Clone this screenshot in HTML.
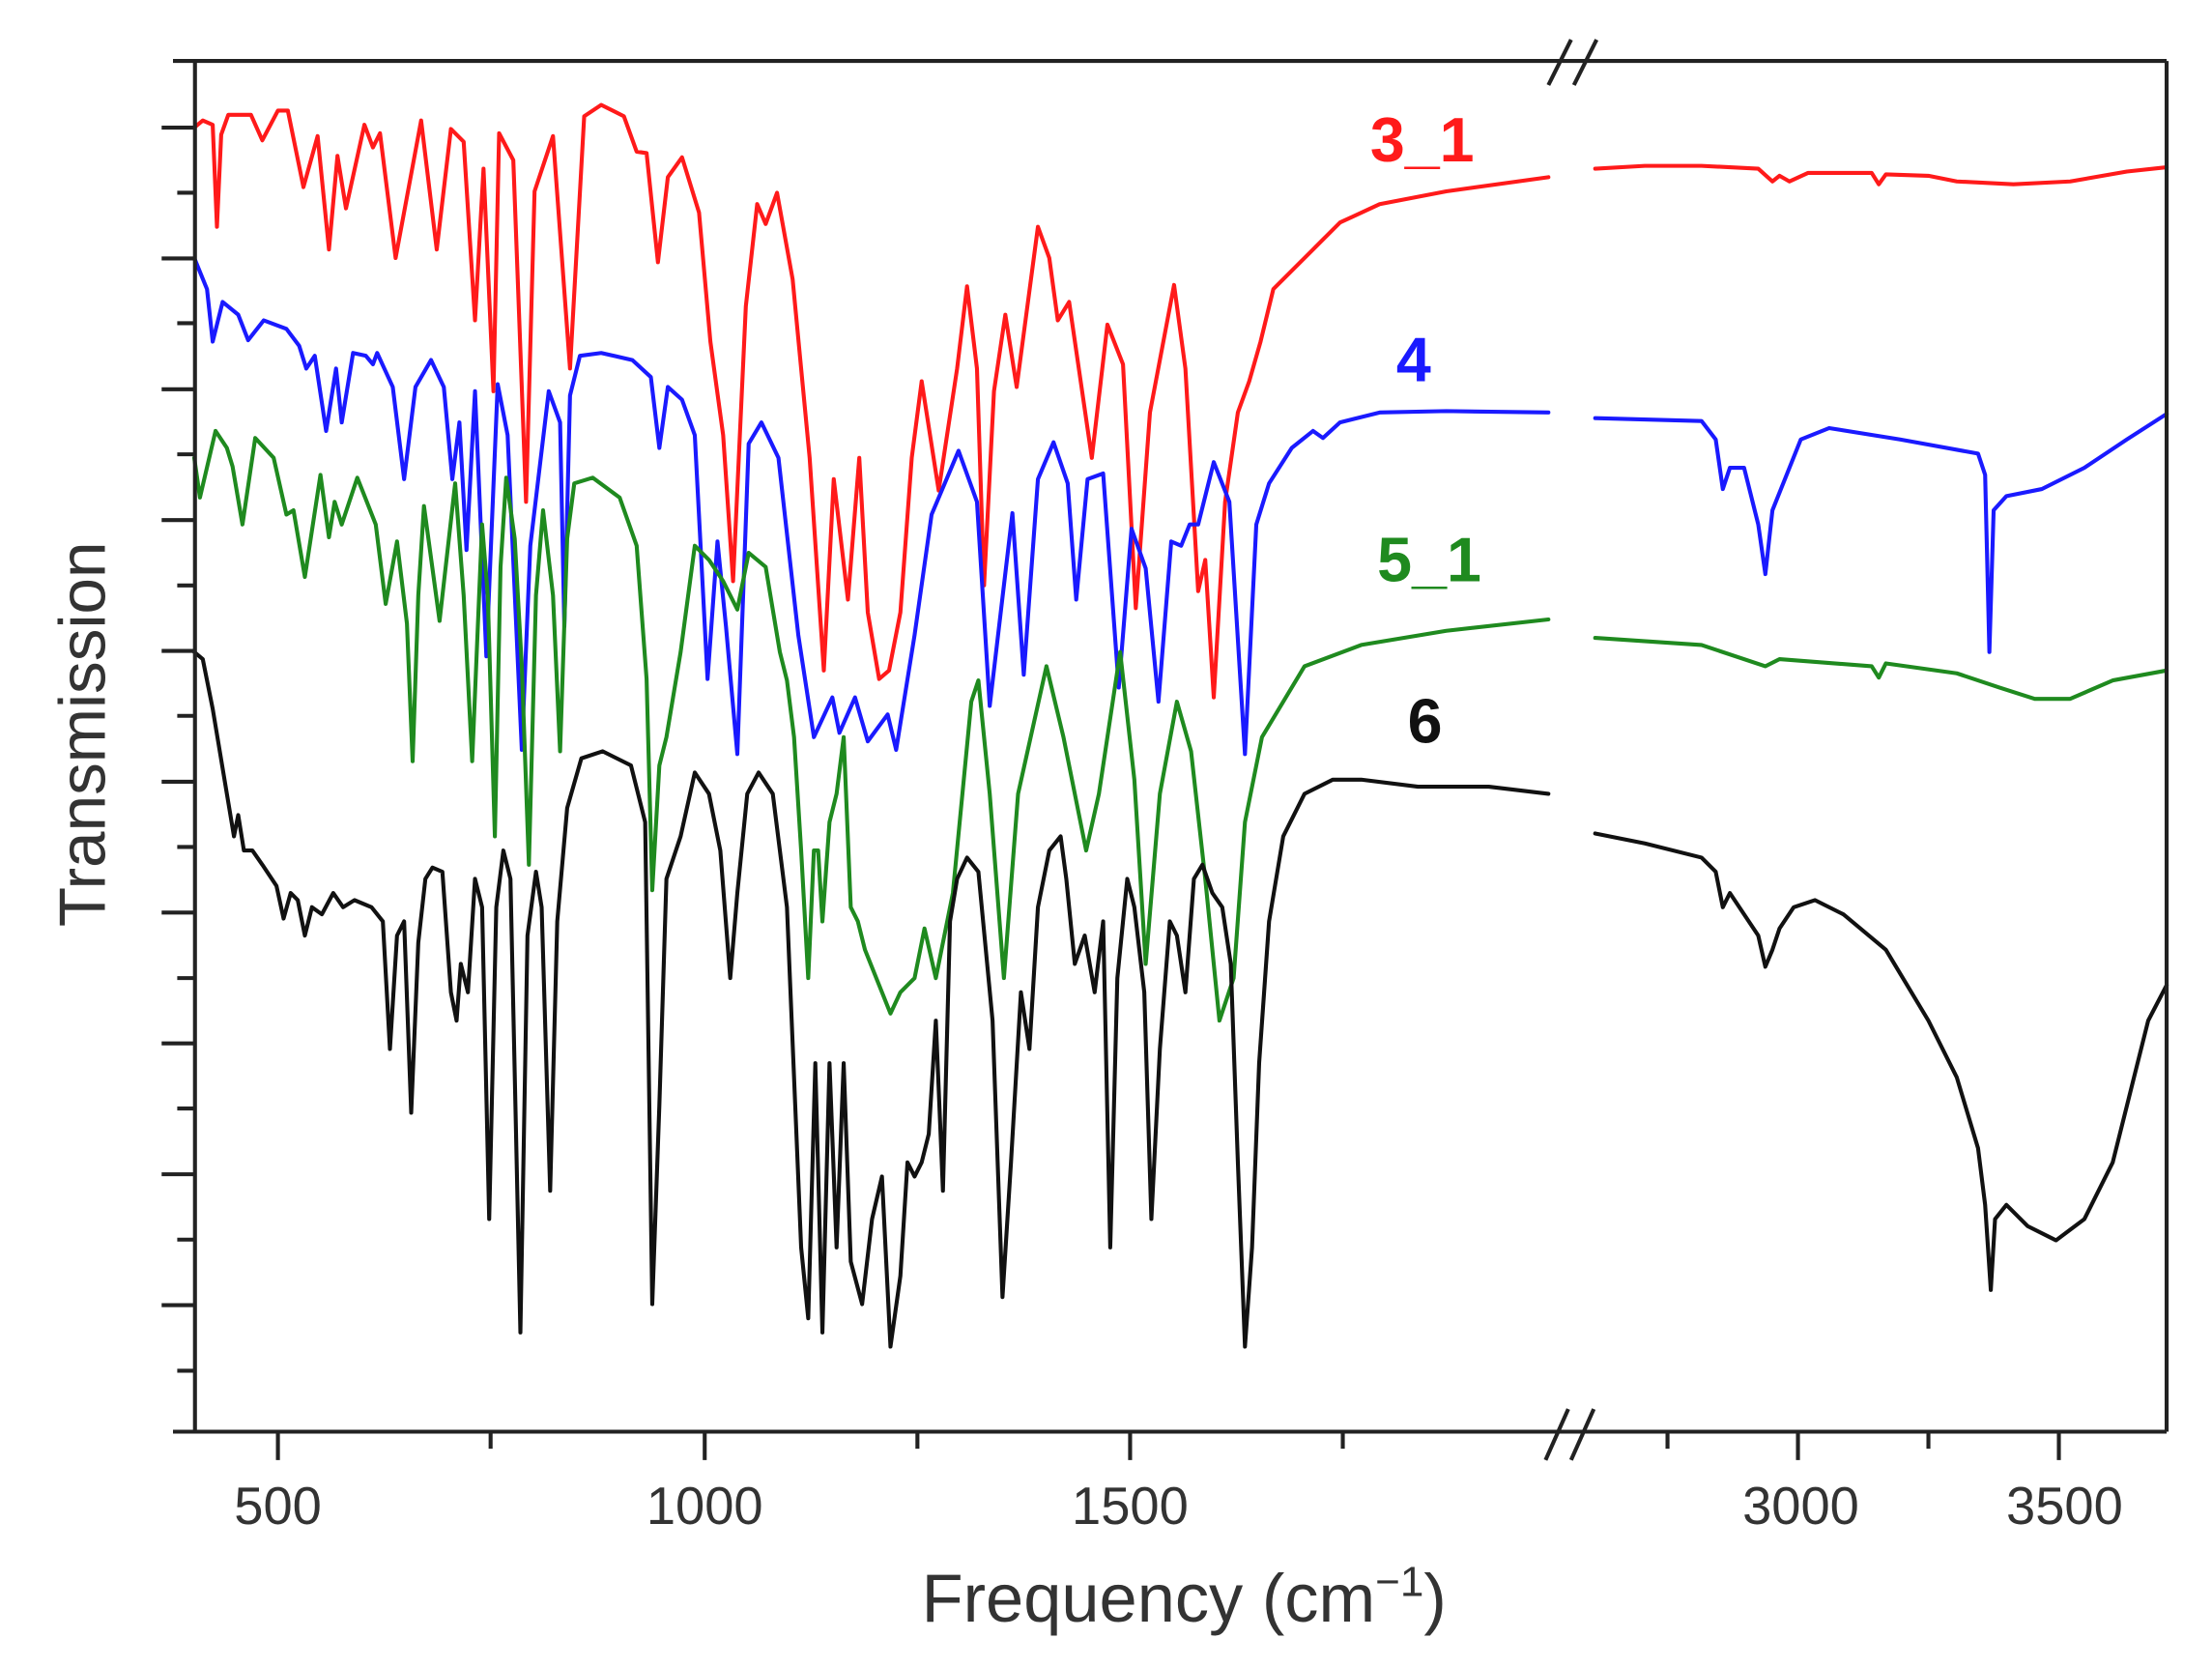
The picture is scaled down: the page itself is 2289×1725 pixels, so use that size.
<!DOCTYPE html>
<html><head><meta charset="utf-8"><style>
html,body{margin:0;padding:0;background:#fff;}
svg{display:block;}
text{font-family:"Liberation Sans",sans-serif;}
</style></head><body>
<svg width="2289" height="1725" viewBox="0 0 1560 1176" preserveAspectRatio="none" xmlns="http://www.w3.org/2000/svg">
<rect width="1560" height="1176" fill="#fff"/>
<g fill="none" stroke-width="2.8" stroke-linejoin="round" stroke-linecap="round">
<polyline stroke="#ff1a1a" points="137,90 143,85 150,88 153,160 156,95 161,81 177,81 185,99 196,78 203,78 214,132 224,96 232,176 238,110 244,147 257,88 263,104 268,94 279,182 297,85 308,176 318,91 327,100 335,226 341,119 348,276 352,94 362,113 371,354 377,135 390,96 402,260 412,82 424,74 440,82 449,107 456,108 464,185 471,125 481,111 493,150 501,241 510,307 517,410 526,216 534,144 540,158 548,136 559,197 571,323 581,473 588,338 598,423 606,323 612,432 620,479 627,473 635,432 643,323 650,269 662,346 675,260 682,202 689,260 694,413 701,276 709,222 717,273 732,160 740,182 746,226 754,213 770,323 781,229 792,257 801,429 811,291 828,201 836,260 845,417 850,395 856,492 864,354 873,291 881,269 889,241 898,204 926,176 945,157 973,144 1020,135 1092,125"/>
<polyline stroke="#ff1a1a" points="1125,119 1160,117 1200,117 1240,119 1250,128 1255,124 1262,128 1275,122 1320,122 1325,130 1330,123 1360,124 1380,128 1420,130 1460,128 1500,121 1528,118"/>
<polyline stroke="#1a1aff" points="137,182 146,204 150,241 157,213 168,222 175,240 186,226 202,232 211,244 216,260 222,251 230,304 237,260 241,298 249,249 258,251 263,257 266,249 277,273 285,338 293,273 304,254 313,273 319,338 324,298 329,388 335,276 343,463 351,271 358,307 368,529 374,385 387,276 395,298 398,442 402,279 409,251 424,249 446,254 459,266 465,316 471,273 481,282 490,307 499,479 506,382 512,442 520,532 528,313 537,298 549,323 563,448 574,520 587,492 592,517 603,492 612,523 626,504 632,529 645,448 657,363 676,318 689,354 698,498 714,362 722,476 732,338 743,312 753,341 759,423 767,338 778,334 789,485 798,373 808,401 817,495 826,382 833,385 839,370 845,370 856,326 867,354 878,532 886,370 895,341 911,316 926,304 933,309 945,298 973,291 1020,290 1092,291"/>
<polyline stroke="#1a1aff" points="1125,295 1200,297 1210,310 1215,345 1220,330 1230,330 1240,370 1245,405 1250,360 1258,340 1270,310 1290,302 1340,310 1395,320 1400,335 1403,460 1406,360 1415,350 1440,345 1470,330 1500,310 1528,292"/>
<polyline stroke="#1f8a1f" points="137,323 141,351 152,304 160,316 164,329 171,370 180,309 193,323 202,363 207,360 215,407 226,335 232,379 236,354 241,370 252,337 265,370 272,426 280,382 287,440 291,537 295,420 299,357 310,438 321,341 327,420 333,537 340,370 344,420 349,590 353,400 357,337 363,380 368,470 373,610 378,420 383,360 390,420 395,530 400,380 405,341 418,337 437,351 449,385 456,479 460,628 465,540 470,520 480,460 490,385 500,395 510,410 520,430 528,390 540,400 550,460 555,480 560,520 565,600 570,690 574,600 577,600 580,650 585,580 590,560 595,520 600,640 605,650 610,670 622,700 628,715 635,700 645,690 652,655 660,690 672,630 685,495 690,480 698,560 708,690 718,560 738,470 750,520 766,600 775,560 790,460 800,550 808,680 818,560 830,495 840,530 850,620 860,720 870,690 878,580 890,520 920,470 960,455 1020,445 1092,437"/>
<polyline stroke="#1f8a1f" points="1125,450 1200,455 1245,470 1255,465 1320,470 1325,478 1330,468 1380,475 1410,485 1435,493 1460,493 1490,480 1528,473"/>
<polyline stroke="#111" points="137,460 143,465 150,500 160,560 165,590 168,575 172,600 178,600 185,610 195,625 200,648 205,630 210,635 215,660 220,640 227,645 235,630 242,640 250,635 262,640 270,650 275,740 280,660 285,650 290,785 295,665 300,620 305,612 312,615 318,700 322,720 325,680 330,700 335,620 340,640 345,860 350,640 355,600 360,620 367,940 372,660 378,615 382,640 388,840 393,650 400,570 410,535 425,530 445,540 455,580 460,920 465,780 470,620 480,590 490,545 500,560 508,600 515,690 520,630 527,560 535,545 545,560 555,640 565,880 570,930 575,750 580,940 585,750 590,880 595,750 600,890 608,920 615,860 622,830 628,950 635,900 640,820 645,830 650,820 655,800 660,720 665,840 670,650 675,620 682,605 690,615 700,720 707,915 713,820 720,700 726,740 732,640 740,600 748,590 752,620 758,680 765,660 772,700 778,650 783,880 788,690 795,620 800,640 807,700 812,860 818,740 825,650 830,660 836,700 842,620 848,610 855,630 862,640 868,680 873,820 878,950 883,880 888,750 895,650 905,590 920,560 940,550 960,550 1000,555 1050,555 1092,560"/>
<polyline stroke="#111" points="1125,588 1160,595 1200,605 1210,615 1215,640 1220,630 1230,645 1240,660 1245,682 1250,670 1255,655 1265,640 1280,635 1300,645 1330,670 1360,720 1380,760 1395,810 1400,850 1404,910 1407,860 1415,850 1430,865 1450,875 1470,860 1490,820 1505,760 1515,720 1528,695"/>
</g>
<g stroke="#222" stroke-width="2.8" fill="none">
<line x1="137.5" y1="43" x2="137.5" y2="1010"/>
<line x1="1528" y1="43" x2="1528" y2="1010"/>
<line x1="122" y1="43" x2="1528" y2="43"/>
<line x1="122" y1="1010" x2="1528" y2="1010"/>
<line x1="1092" y1="60" x2="1108" y2="28" />
<line x1="1110" y1="60" x2="1126" y2="28" />
<line x1="1090" y1="1030" x2="1106" y2="994" />
<line x1="1108" y1="1030" x2="1124" y2="994" />
<path d="M114 90H137M114 182.3H137M114 274.6H137M114 366.9H137M114 459.2H137M114 551.5H137M114 643.8H137M114 736.1H137M114 828.4H137M114 920.7H137"/>
<path d="M125 136H137M125 228H137M125 320.5H137M125 413H137M125 505H137M125 597.5H137M125 690H137M125 782H137M125 874.5H137M125 967H137"/>
<path d="M196 1010V1030M497 1010V1030M797 1010V1030M1268 1010V1030M1452 1010V1030"/>
<path d="M346 1010V1022M647 1010V1022M947 1010V1022M1176 1010V1022M1360 1010V1022"/>
</g>
<g fill="#333" font-size="37" text-anchor="middle">
<text x="196" y="1075">500</text>
<text x="497" y="1075">1000</text>
<text x="797" y="1075">1500</text>
<text x="1270" y="1075">3000</text>
<text x="1456" y="1075">3500</text>
</g>
<text x="835" y="1144" fill="#333" font-size="48" text-anchor="middle">Frequency (cm<tspan font-size="30" dy="-18">−1</tspan><tspan dy="18">)</tspan></text>
<text transform="translate(74,518) rotate(-90)" fill="#333" font-size="46" text-anchor="middle">Transmission</text>
<g font-size="44" font-weight="bold" text-anchor="middle">
<text x="1003" y="114" fill="#ff1a1a">3_1</text>
<text x="997" y="269" fill="#1a1aff">4</text>
<text x="1008" y="410" fill="#1f8a1f">5_1</text>
<text x="1005" y="524" fill="#111">6</text>
</g>
</svg>
</body></html>
